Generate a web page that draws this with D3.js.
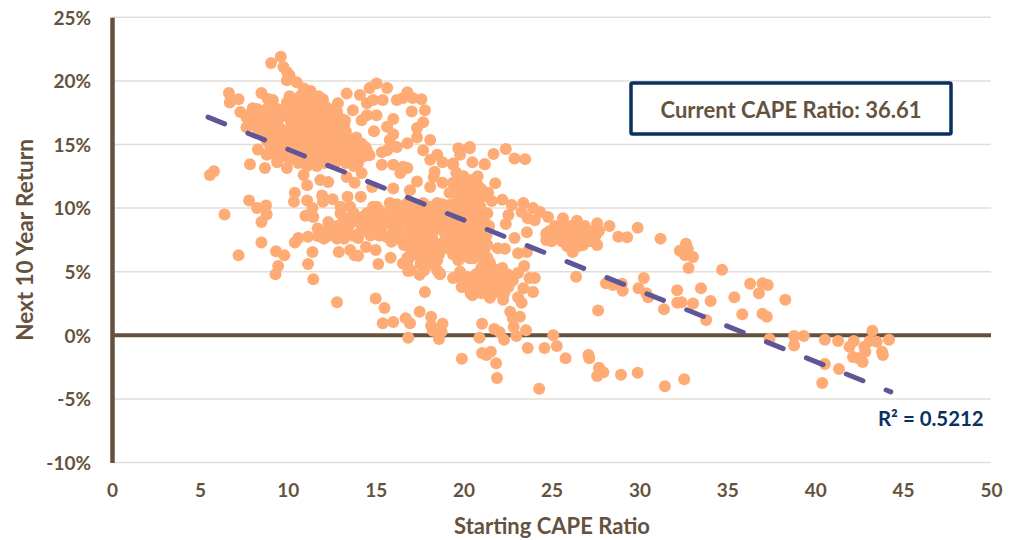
<!DOCTYPE html>
<html>
<head>
<meta charset="utf-8">
<script src="https://cdn.jsdelivr.net/npm/d3@7"></script>
<style>
  html, body { margin: 0; padding: 0; background: #fff; }
  text { font-family: Lato, "Open Sans", sans-serif; font-weight: 700; }
</style>
</head>
<body>
<svg id="chart" width="1014" height="540"></svg>
<script>
// values, grouped by area of the plot: [starting CAPE, next 10y return %]
const lowCapeLeft = [[5.57,12.6],[5.8,12.9],[6.4,9.5],[7.2,6.3],[7.8,10.6],[8.25,10],[8.76,10.2],[8.8,9.5],[8.5,8.9],[8.5,7.3],[9.33,6.6],[9.8,6.3],[9.45,5.45],[9.3,4.8],[10.4,7.3],[10.6,7.65],[11.15,7.75],[11.7,7.8],[11.4,6.55],[11.15,5.6],[11.45,4.4],[12.8,2.6],[6.65,19.05],[6.7,18.3],[7.2,18.55],[7.3,17.55],[7.65,17.15],[8,17.85],[8.5,19.05],[8.85,18.6],[9.15,18.5],[8.5,17.55],[9,17.45],[7.65,16.35],[8,16.65],[8.8,16.4],[8.3,14.6],[7.85,13.45],[8.7,13.15],[8.8,14.2],[9.4,13.6],[9.95,13.15],[9.45,15.35],[9.2,15.75]];

const topTail = [[9.05,21.4],[9.6,21.9],[9.75,21.1],[9.95,20.7],[10.1,20.45],[9.95,20.05],[10.5,19.9],[10.9,19.4],[11.3,19.2]];

const upperBlob = [[10.1,18.8],[10.7,18.8],[11.3,18.8],[11.75,18.8],[9.95,18.3],[10.5,18.3],[11.1,18.3],[11.65,18.3],[8.25,17.8],[8.8,17.8],[9.4,17.8],[10.15,17.8],[10.7,17.8],[11.3,17.8],[11.85,17.8],[12.35,17.8],[7.7,17.3],[8.25,17.3],[9,17.3],[9.55,17.3],[10.3,17.3],[10.9,17.3],[11.5,17.3],[12.05,17.3],[12.6,17.3],[7.85,16.8],[8.6,16.8],[9.2,16.8],[10.9,16.8],[11.5,16.8],[12.05,16.8],[12.6,16.8],[8.25,16.3],[9,16.3],[9.55,16.3],[10.5,16.3],[11.1,16.3],[11.65,16.3],[12.2,16.3],[12.8,16.3],[8.6,15.8],[9.4,15.8],[10.15,15.8],[10.7,15.8],[11.3,15.8],[11.85,15.8],[12.4,15.8],[13,15.8],[8.8,15.3],[9.55,15.3],[10.3,15.3],[10.9,15.3],[11.5,15.3],[12.05,15.3],[12.6,15.3],[13.2,15.3],[13.75,15.3],[9,14.8],[9.75,14.8],[10.5,14.8],[11.1,14.8],[11.65,14.8],[12.2,14.8],[12.8,14.8],[13.35,14.8],[13.95,14.8],[14.4,14.8],[9.2,14.3],[9.95,14.3],[10.7,14.3],[11.3,14.3],[11.85,14.3],[12.6,14.3],[13.2,14.3],[13.75,14.3],[14.15,14.3],[9.4,13.8],[10.15,13.8],[11.1,13.8],[11.65,13.8],[13.75,13.8],[11.1,13.3],[11.65,13.3],[13.75,13.3]];

const upperRight = [[10.9,12.6],[11.1,11.8],[10.4,11.2],[10.35,10.5],[11.1,10.6],[11.85,12.2],[12.3,12.05],[11.95,11],[12,10.5],[12.55,10.7],[13.4,10.9],[14.15,10.9],[13.35,12.45],[13.8,12],[14.2,12.75],[14.8,11.65],[16,11.55],[16.95,11.4],[17.35,12.1],[18.1,11.65],[18.8,12],[13.35,19],[12.85,18.25],[13.25,16.9],[13.1,16.5],[13.7,17.7],[14.2,16.9],[14.1,18.9],[14.65,19.45],[15.05,19.8],[15.65,19.45],[14.85,18.5],[15.4,18.5],[14.5,18.25],[14.9,16.05],[14.5,17.3],[15.05,17.3],[16,17],[15.65,16.4],[16,15.8],[15.8,15.35],[16.2,18.5],[16.8,19.1],[16.55,18.65],[17.1,18.65],[17.6,18.55],[17.05,17.6],[17.8,17.7],[17.7,16.75],[17.35,16.3],[17.35,15.55],[16.8,15.1],[18.1,15.35],[17.7,14.55],[16.2,14.8],[15.35,14.4],[14.65,14.15],[15.65,14.55],[18.1,13.8],[18.5,14.2],[18.8,13.6],[15.35,13.4],[16,13.4],[16.55,13.25],[16.4,12.75],[16.8,13.15],[18.35,12.85],[18.3,12.45],[19.7,14.7],[20.35,14.7],[19.8,14.2],[20.5,13.6],[21.2,13.45],[19.4,13.4],[19.6,12.75],[20.5,12.2],[20.75,11.7],[19.8,12],[19.2,11.2],[20.2,11.4],[21.3,11.2],[20.75,10.4],[19.6,10.4],[18.5,10.4],[17.7,10.4],[15.8,10.4],[14.85,10.1],[16.8,10.4]];

const middleBand = [[11,9.4],[11.45,9.3],[11.4,10],[11.7,8.4],[12.3,8.9],[12.2,7.75],[12.8,7.6],[13.15,9.3],[13.55,8.8],[14,7.65],[14.4,9.05],[14.85,8.3],[14.95,9.85],[15.6,7.75],[15.8,9.05],[16.4,9.85],[16.55,8.05],[16.95,6.95],[17.35,8.05],[17.7,9.05],[18.1,7.25],[18.8,7.25],[18.55,9.85],[19.4,8.3],[19.8,6.7],[20.55,7.5],[21.1,6.3],[20.2,9.6],[20.9,8.8],[13,10.1],[13.55,10.1],[15.05,10.1],[15.85,10.1],[16.6,10.1],[17.35,10.1],[18.1,10.1],[20.95,10.1],[13,9.6],[13.75,9.6],[14.5,9.6],[15.3,9.6],[16,9.6],[16.8,9.6],[17.55,9.6],[18.3,9.6],[19.8,9.6],[20.6,9.6],[21.35,9.6],[13.95,9.1],[14.7,9.1],[15.85,9.1],[16.6,9.1],[17.35,9.1],[18.1,9.1],[18.9,9.1],[19.65,9.1],[20.4,9.1],[21.15,9.1],[12.8,8.6],[14.3,8.6],[16.2,8.6],[17,8.6],[17.75,8.6],[18.5,8.6],[19.25,8.6],[20,8.6],[20.8,8.6],[21.45,8.6],[12.05,8.1],[12.6,8.1],[13.35,8.1],[14.1,8.1],[16.6,8.1],[18.1,8.1],[18.9,8.1],[19.65,8.1],[20.4,8.1],[21.15,8.1],[12.05,7.6],[13.2,7.6],[16.2,7.6],[17,7.6],[17.75,7.6],[19.45,7.6],[20.2,7.6],[20.95,7.6],[16.6,7.1],[17.35,7.1],[17.75,7.1],[18.9,7.1],[20.6,7.1],[21.35,7.1],[17,6.6],[17.35,6.6],[19.65,6.6],[20.4,6.6],[21.15,6.6],[16.8,6.1],[17.55,6.1],[18.3,6.1],[19.85,6.1],[21.35,6.1],[16.8,5.6],[17.55,5.6],[18.1,5.6],[21.15,5.6],[17,5.1],[17.75,5.1],[18.5,5.1],[21,5.1],[19.65,4.6],[20.2,4.6],[21.35,4.6]];

const lowerBand = [[12.9,6.55],[13.55,6.7],[13.8,6.3],[14,6.25],[14.45,6.95],[15,6.7],[15.15,5.6],[15.85,6.1],[15.7,7.7],[16.55,5.65],[16.85,5.05],[17.5,4.75],[18.65,4.8],[18.5,5.9],[17.7,5.9],[16.95,6.15],[19.4,4.5],[19.9,3.8],[20.5,3.15],[20.25,4.35],[19.8,5],[20.9,4.8],[21.4,3.2],[19.7,6.55],[19.7,5.9],[20.55,6.05],[21.5,5.7],[20.9,4.9],[21.8,5.15],[21.3,4.35],[22.2,4.6],[22.65,4.6],[20.9,3.55],[21.5,3.8],[22.05,3.7],[22.55,3.8],[20.4,3.3],[21.5,2.95],[22.25,2.8],[19.9,3.8],[19.8,4.9],[20.5,3.95],[23.75,4.5],[24.05,4.5],[23.4,3.7],[23.95,3.4],[23.1,3],[23.3,2.55],[22.65,1.85],[23.2,1.45],[22.8,1.35],[22.85,0.65],[23.55,0.4],[23,-0.05],[18.66,4.85],[18.95,6.85]];

const midRight = [[19.75,14.65],[20.35,14.8],[21.7,14.25],[22.4,14.65],[22.9,13.9],[23.5,13.85],[21.2,13.45],[19.4,13.5],[19.6,12.75],[21.8,11.95],[20.5,12.2],[20.8,11.8],[20.1,11.55],[21.4,11.2],[20.55,10.9],[21.1,10.9],[22.2,10.65],[21.6,10.55],[20.9,10],[19.8,10.5],[19.2,10.25],[22.75,10.25],[23.4,10.4],[22.55,9.45],[22.4,8.75],[23.3,9.7],[23.95,10],[24.35,9.7],[23.65,9.2],[24.05,9.05],[24.8,9.3],[25.65,9.2],[26.45,9],[27.6,8.8],[27.7,8.2],[28.3,8.6],[28.8,7.75],[29.3,7.7],[29.9,8.45],[31.2,7.6],[24.7,8],[24.7,7.5],[25.1,8.3],[25.3,7.65],[25.65,8.5],[25.9,8],[25.8,7.25],[26.05,8.4],[26.2,7.5],[26.2,6.55],[26.5,8.3],[26.6,7.75],[26.8,7.1],[27.1,8],[27.35,7.65],[27.6,7.1],[26.05,7.1],[23.6,8.1],[22.9,7.65],[23.6,6.55],[23.1,6.45],[21.95,6.85],[22.35,6.8],[23.45,5.45],[23.1,4.9],[21.1,6.3],[20.35,6.05],[19.7,6.3],[19.2,8.3],[19.8,8],[20.35,7.75],[20.95,7.75],[21.3,8.55],[20.55,8.8],[19.8,9.05],[19.2,7.5],[21.15,7.25],[20.75,6.85]];

const nearZero = [[15,2.9],[15.5,2.15],[15.4,0.95],[16,1.05],[16.7,1.35],[16.95,0.95],[16.85,-0.2],[17.5,1.85],[18.15,1.45],[17.8,3.4],[18.15,0.75],[18.25,0.35],[18.8,0.9],[18.75,0.3],[18.6,-0.3],[21.05,0.9],[20.9,-0.2],[19.9,-1.85],[21.05,-1.4],[21.3,-1.55],[21.75,0.5],[22.05,0.25],[22.3,-0.35],[25.1,0],[25.3,-0.85],[24.6,-1],[23.65,-1],[25.8,-1.8],[27.1,-1.55],[27.15,-1.8],[21.55,-1.3],[21.85,-2.2],[21.9,-3.35],[24.3,-4.2],[27.7,-2.55],[27.95,-2.9],[27.6,-3.2],[28.95,-3.1],[29.9,-2.95],[31.45,-4],[32.55,-3.45]];

const highCape = [[26.4,4.6],[27.65,1.95],[28.1,4.1],[28.5,3.95],[29,4.05],[29.05,3.5],[29.95,3.7],[30.25,4.5],[30.5,3],[30.4,3.3],[31.4,2.05],[32.15,3.55],[32.15,2.55],[32.4,2.6],[33.05,2.5],[33.5,3.7],[34.05,2.7],[33.8,1.2],[34.7,5.15],[32.65,7.2],[32.3,6.65],[32.75,6.8],[32.6,6.3],[33.05,6.15],[32.8,5.3],[35.4,3],[35.85,1.65],[36.3,4.05],[37,4.1],[37.3,3.95],[36.8,3.3],[38.3,2.8],[37,1.7],[37.25,1.45],[37.4,-0.3],[38.8,-0.05],[39.35,-0.05],[38.8,-0.8],[40.55,-0.35],[41.3,-0.45],[40.55,-2.25],[41.35,-2.65],[40.4,-3.75],[43.25,0.35],[42.2,-0.45],[41.95,-0.9],[43.1,-0.45],[43.5,-0.5],[44.2,-0.35],[42.8,-0.9],[42.85,-1.3],[42.15,-1.7],[42.45,-1.8],[42.7,-2.1],[43.8,-1.3],[43.85,-1.55]];

// the crowded parts of the cloud, second pass
const crowdedUpper = [[10.4,18.55],[11,18.55],[11.6,18.55],[12,18.55],[10.2,18.05],[10.8,18.05],[11.4,18.05],[12.1,18.05],[8.5,17.55],[9.1,17.55],[9.7,17.55],[10.4,17.55],[11,17.55],[11.6,17.55],[12.2,17.55],[12.8,17.55],[8,17.05],[8.9,17.05],[9.5,17.05],[10.1,17.05],[10.7,17.05],[11.3,17.05],[11.9,17.05],[12.4,17.05],[13,17.05],[8.5,16.55],[9.3,16.55],[10.2,16.55],[10.8,16.55],[11.4,16.55],[12,16.55],[12.5,16.55],[13.2,16.55],[8.9,16.05],[9.7,16.05],[10.4,16.05],[11,16.05],[11.5,16.05],[12.1,16.05],[12.7,16.05],[13.3,16.05],[9,15.55],[9.8,15.55],[10.5,15.55],[11.1,15.55],[11.6,15.55],[12.2,15.55],[12.8,15.55],[13.4,15.55],[13.9,15.55],[9.3,15.05],[10,15.05],[10.7,15.05],[11.3,15.05],[11.9,15.05],[12.4,15.05],[13,15.05],[13.6,15.05],[14.2,15.05],[9.5,14.55],[10.2,14.55],[10.9,14.55],[11.5,14.55],[12.1,14.55],[12.7,14.55],[13.3,14.55],[13.9,14.55],[14.5,14.55],[9.7,14.05],[10.5,14.05],[11.2,14.05],[11.9,14.05],[12.4,14.05],[13,14.05],[13.5,14.05],[14.3,14.05],[10.6,13.55],[11.4,13.55],[12.1,13.55],[12.7,13.55],[13.3,13.55],[14,13.55]];

const crowdedMiddle = [[16.2,10.3],[17,10.3],[18.8,10.3],[19.4,10.3],[20.4,10.3],[15.2,9.85],[16,9.85],[17,9.85],[17.8,9.85],[19,9.85],[19.6,9.85],[20.2,9.85],[21,9.85],[14.3,9.35],[15.1,9.35],[15.6,9.35],[16.3,9.35],[17.1,9.35],[17.9,9.35],[18.6,9.35],[19.2,9.35],[20,9.35],[20.8,9.35],[13.2,8.85],[14.1,8.85],[15,8.85],[15.5,8.85],[16.3,8.85],[17.2,8.85],[18,8.85],[18.8,8.85],[19.5,8.85],[20.3,8.85],[21.1,8.85],[12.6,8.35],[13.4,8.35],[14.4,8.35],[15.3,8.35],[16,8.35],[16.9,8.35],[17.6,8.35],[18.4,8.35],[19.1,8.35],[19.9,8.35],[20.7,8.35],[13,7.85],[13.7,7.85],[14.7,7.85],[15.2,7.85],[16.1,7.85],[16.9,7.85],[17.5,7.85],[18.2,7.85],[19,7.85],[19.7,7.85],[20.5,7.85],[21.3,7.85],[15.9,7.35],[16.9,7.35],[17.5,7.35],[18.3,7.35],[19,7.35],[19.8,7.35],[20.4,7.35],[17.2,6.85],[17.9,6.85],[18.4,6.85],[19.3,6.85],[20,6.85],[20.9,6.85],[17.1,6.35],[17.8,6.35],[18.6,6.35],[19.4,6.35],[20.6,6.35]];

const crowdedRight = [[20,12.5],[20.8,12.5],[19.4,12],[20.2,12],[19.6,11.5],[20.4,11.5],[21,11.5],[19.7,11],[20.3,11],[20.9,11],[21,5.3],[21.6,5.3],[22.2,5.3],[20.7,4.8],[21.4,4.8],[22,4.8],[22.5,4.8],[20.2,4.3],[20.7,4.3],[21.7,4.3],[22.3,4.3],[22.8,4.3],[20.9,3.9],[21.2,3.9],[21.9,3.9],[22.4,3.9],[21,3.3],[21.7,3.3],[22.3,3.3],[25.2,8.6],[26,8.6],[26.9,8.6],[24.9,8.2],[25.4,8.2],[26.1,8.2],[26.8,8.2],[27.4,8.2],[25,7.8],[25.6,7.8],[26.2,7.8],[26.8,7.8],[27.5,7.8],[25,7.4],[25.6,7.4],[26.3,7.4],[26.9,7.4],[27.2,7.4],[25.9,7],[26.5,7]];

const points = [...lowCapeLeft, ...topTail, ...upperBlob, ...upperRight, ...middleBand, ...lowerBand, ...midRight, ...nearZero, ...highCape, ...crowdedUpper, ...crowdedMiddle, ...crowdedRight];

const trendLine = [[5.46,17.15],[44.3,-4.45]];
const xTicks = [0,5,10,15,20,25,30,35,40,45,50];
const yTicks = [-10,-5,0,5,10,15,20,25];

const brown = "#65523E";
const navy = "#0B2F5F";

const svg = d3.select("#chart");
const x = d3.scaleLinear().domain([0, 50]).range([112, 991]);
const y = d3.scaleLinear().domain([-10, 25]).range([462.5, 17.3]);

// gridlines
svg.append("g").selectAll("line")
    .data(yTicks.filter(d => d !== 0))
    .join("line")
    .attr("x1", x(0)).attr("x2", x(50))
    .attr("y1", d => y(d)).attr("y2", d => y(d))
    .attr("stroke", "#E2DFDA")
    .attr("stroke-width", 1.5);

// zero line
svg.append("line")
    .attr("x1", x(0)).attr("x2", x(50))
    .attr("y1", y(0)).attr("y2", y(0))
    .attr("stroke", brown)
    .attr("stroke-width", 4);

// left axis
const yAxis = d3.axisLeft(y).tickValues(yTicks).tickFormat(d => d + "%").tickSize(0).tickPadding(21);
const gy = svg.append("g").attr("transform", `translate(${x(0)},0)`).call(yAxis);
gy.select(".domain").attr("stroke", brown).attr("stroke-width", 4.5);
gy.selectAll("text").attr("fill", brown).style("font-size", "19px").attr("dy", "0.36em");

// bottom axis labels only
const xAxis = d3.axisBottom(x).tickValues(xTicks).tickSize(0).tickPadding(21);
const gx = svg.append("g").attr("transform", `translate(0,${y(-10)})`).call(xAxis);
gx.select(".domain").remove();
gx.selectAll("text").attr("fill", brown).style("font-size", "19px");

// scatter
svg.append("g").selectAll("circle")
    .data(points)
    .join("circle")
    .attr("cx", d => x(d[0]))
    .attr("cy", d => y(d[1]))
    .attr("r", 6)
    .attr("fill", "#FFAB75");

// dashed trend
svg.append("path")
    .attr("d", d3.line().x(d => x(d[0])).y(d => y(d[1]))(trendLine))
    .attr("fill", "none")
    .attr("stroke", "#5F5597")
    .attr("stroke-width", 5)
    .attr("stroke-linecap", "round")
    .attr("stroke-dasharray", "18 25");

// callout
svg.append("rect")
    .attr("x", 631).attr("y", 83)
    .attr("width", 320).attr("height", 51)
    .attr("rx", 1.5)
    .attr("fill", "#fff")
    .attr("stroke", navy)
    .attr("stroke-width", 3.5);
svg.append("text")
    .attr("x", 791).attr("y", 118)
    .attr("text-anchor", "middle")
    .attr("fill", brown)
    .style("font-size", "22px")
    .text("Current CAPE Ratio: 36.61");

svg.append("text")
    .attr("x", 878).attr("y", 426)
    .attr("fill", navy)
    .style("font-size", "20.4px")
    .text("R² = 0.5212");

// axis titles
svg.append("text")
    .attr("x", 552).attr("y", 534)
    .attr("text-anchor", "middle")
    .attr("fill", brown)
    .style("font-size", "22px")
    .text("Starting CAPE Ratio");
svg.append("text")
    .attr("transform", "translate(33,240) rotate(-90)")
    .attr("text-anchor", "middle")
    .attr("fill", brown)
    .style("font-size", "22.5px")
    .text("Next 10 Year Return");
</script>
</body>
</html>
